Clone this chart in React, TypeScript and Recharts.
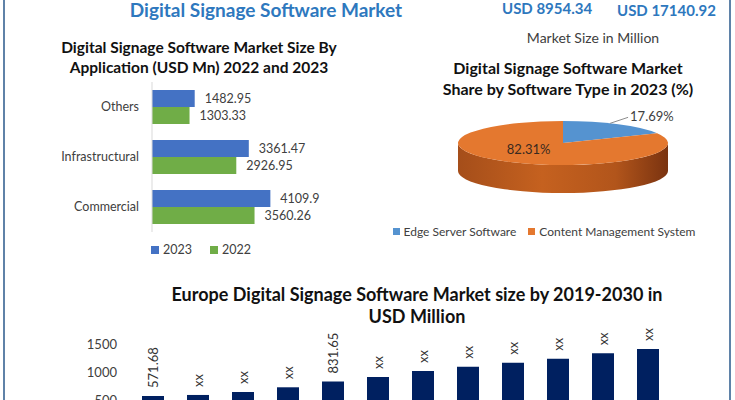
import React from 'react'
import { BarChart, Bar, XAxis, YAxis, Legend, LabelList, PieChart, Pie, Cell } from 'recharts'

// Market size by application (USD Mn)
const applications = ['Others', 'Infrastructural', 'Commercial']
const size2023 = [1482.95, 3361.47, 4109.9]
const size2022 = [1303.33, 2926.95, 3560.26]
const seriesNames = ['2023', '2022']

// Share by software type, 2023 (%)
const softwareTypes = ['Edge Server Software', 'Content Management System']
const softwareShare = [17.69, 82.31]
const softwareColors = ['#5593D0', '#E4782F']

// Europe market size 2019-2030 (USD Mn), bar heights estimated where shown as "xx"
const years = ['2019', '2020', '2021', '2022', '2023', '2024', '2025', '2026', '2027', '2028', '2029', '2030']
const europeSize = [571.68, 590, 643, 727, 831.65, 910, 1018, 1095, 1166, 1238, 1333, 1410]
const europeLabels = ['571.68', 'xx', 'xx', 'xx', '831.65', 'xx', 'xx', 'xx', 'xx', 'xx', 'xx', 'xx']
const europeTicks = [500, 1000, 1500]

const appData = applications.map((name, i) => ({ name, y2023: size2023[i], y2022: size2022[i] }))
const shareData = softwareTypes.map((name, i) => ({ name, value: softwareShare[i] }))
const europeData = years.map((year, i) => ({ year, value: europeSize[i], label: europeLabels[i] }))

const FONT = "Lato, 'Open Sans', sans-serif"
const TEXT = '#404040'
const RAD = Math.PI / 180
const FLAT = 0.21
const DEPTH = 28

// elliptical sector with a side wall, fakes the 3D pie look
function Sector3D(props: any) {
  const { cx, cy, outerRadius, startAngle, endAngle, fill } = props
  const rx = outerRadius
  const ry = outerRadius * FLAT
  const pt = (a: number, dy = 0) => `${cx + rx * Math.cos(a * RAD)},${cy - ry * Math.sin(a * RAD) + dy}`
  const large = Math.abs(endAngle - startAngle) > 180 ? 1 : 0
  const sweep = endAngle < startAngle ? 1 : 0
  const top = `M${cx},${cy} L${pt(startAngle)} A${rx},${ry} 0 ${large} ${sweep} ${pt(endAngle)} Z`

  const lo = Math.min(startAngle, endAngle)
  const hi = Math.max(startAngle, endAngle)
  const sides: string[] = []
  for (const k of [-1, 0, 1]) {
    const a = Math.max(lo, -180 + 360 * k)
    const b = Math.min(hi, 360 * k)
    if (b - a > 0.01) {
      sides.push(
        `M${pt(b)} L${pt(b, DEPTH)} A${rx},${ry} 0 0 1 ${pt(a, DEPTH)} L${pt(a)} A${rx},${ry} 0 0 0 ${pt(b)} Z`
      )
    }
  }
  return (
    <g>
      <defs>
        <linearGradient id="pieSide" x1="0" y1="0" x2="1" y2="0">
          <stop offset="0%" stopColor="#A54E1A" />
          <stop offset="40%" stopColor="#C5611F" />
          <stop offset="75%" stopColor="#B2551B" />
          <stop offset="100%" stopColor="#7A3310" />
        </linearGradient>
      </defs>
      {sides.map((d, i) => (
        <path key={i} d={d} fill="url(#pieSide)" />
      ))}
      <path d={top} fill={fill} />
    </g>
  )
}

const renderPieLabel = (props: any) => {
  const { cx, cy, midAngle, outerRadius, value, index } = props
  const rx = outerRadius
  const ry = outerRadius * FLAT
  const c = Math.cos(midAngle * RAD)
  const s = Math.sin(midAngle * RAD)
  const text = `${Number(value).toFixed(2)}%`
  if (index === 0) {
    const sx = cx + rx * 0.85 * c
    const sy = cy - ry * 1.05 * s
    const ex = sx + 18
    const ey = sy - 6
    return (
      <g>
        <path d={`M${sx},${sy} L${ex},${ey}`} stroke="#8c8c8c" fill="none" />
        <text x={ex + 2} y={ey - 1} fill={TEXT} fontSize={13} dominantBaseline="central">
          {text}
        </text>
      </g>
    )
  }
  return (
    <text x={cx + rx * 0.62 * c} y={cy - ry * 0.3 * s} fill="#3a2a20" fontSize={13} textAnchor="middle" dominantBaseline="central">
      {text}
    </text>
  )
}

const renderEuropeLabel = (props: any) => {
  const { x, y, width, value } = props
  const lx = x + width / 2
  const ly = y - 8
  return (
    <text
      x={lx}
      y={ly}
      transform={`rotate(-90, ${lx}, ${ly})`}
      fill="#333"
      fontSize={13}
      textAnchor="start"
      dominantBaseline="central"
    >
      {value}
    </text>
  )
}

const barLegendText = (value: string) => <span style={{ color: TEXT, fontSize: 12.5, marginRight: 8 }}>{value}</span>
const pieLegendText = (value: string) => <span style={{ color: TEXT, fontSize: 12, marginRight: 2 }}>{value}</span>

const abs = (left: number, top: number, extra: React.CSSProperties = {}): React.CSSProperties => ({
  position: 'absolute',
  left,
  top,
  ...extra,
})

export default function App() {
  return (
    <div
      style={{
        position: 'absolute',
        left: 0,
        top: 0,
        width: 735,
        height: 400,
        overflow: 'hidden',
        background: '#fff',
        fontFamily: FONT,
      }}
    >
      {/* frame */}
      <div style={abs(3, 0, { width: 2, height: 400, background: '#5F82A8' })} />
      <div style={abs(729, 0, { width: 2, height: 400, background: '#5F82A8' })} />

      {/* header */}
      <div style={abs(100, 0, { width: 332, textAlign: 'center', fontSize: 19, lineHeight: '19px', fontWeight: 700, color: '#2E78BE' })}>
        Digital Signage Software Market
      </div>
      <div style={abs(502, 0, { fontSize: 15, lineHeight: '16px', fontWeight: 700, color: '#2E78BE' })}>USD 8954.34</div>
      <div style={abs(617, 2, { fontSize: 15, lineHeight: '16px', fontWeight: 700, color: '#2E78BE' })}>USD 17140.92</div>
      <div style={abs(493, 29, { width: 200, textAlign: 'center', fontSize: 14, color: TEXT })}>
        Market Size in Million
      </div>

      {/* application chart */}
      <div style={abs(34, 37, { width: 330, textAlign: 'center', fontSize: 15.5, fontWeight: 700, color: '#111', lineHeight: '20px' })}>
        Digital Signage Software Market Size By
        <br />
        Application (USD Mn) 2022 and 2023
      </div>
      <div style={abs(0, 72)}>
        <BarChart
          width={330}
          height={170}
          data={appData}
          layout="vertical"
          margin={{ top: 10, right: 34, bottom: 10, left: 0 }}
          barGap={0}
          barSize={17}
        >
          <XAxis type="number" domain={[0, 5000]} hide />
          <YAxis
            type="category"
            dataKey="name"
            width={152}
            tickLine={false}
            tickMargin={7}
            axisLine={{ stroke: '#D9D9D9' }}
            tick={{ fill: TEXT, fontSize: 12.5 }}
          />
          <Legend
            layout="horizontal"
            verticalAlign="middle"
            align="center"
            iconType="square"
            iconSize={8}
            formatter={barLegendText}
            itemSorter={(item: any) => seriesNames.indexOf(String(item.value))}
            wrapperStyle={{ top: 166, left: 145, width: 130 }}
          />
          <Bar dataKey="y2023" name={seriesNames[0]} fill="#4472C4" isAnimationActive={false}>
            <LabelList dataKey="y2023" position="right" offset={10} fill={TEXT} fontSize={12.5} />
          </Bar>
          <Bar dataKey="y2022" name={seriesNames[1]} fill="#70AD47" isAnimationActive={false}>
            <LabelList dataKey="y2022" position="right" offset={10} fill={TEXT} fontSize={12.5} />
          </Bar>
        </BarChart>
      </div>

      {/* share pie */}
      <div style={abs(393, 57, { width: 350, textAlign: 'center', fontSize: 16, fontWeight: 700, color: '#111', lineHeight: '21px' })}>
        Digital Signage Software Market
        <br />
        Share by Software Type in 2023 (%)
      </div>
      <div style={abs(380, 95)}>
        <PieChart width={355} height={150} margin={{ top: 0, right: 0, bottom: 0, left: 0 }}>
          <Pie
            data={shareData}
            dataKey="value"
            nameKey="name"
            cx={183}
            cy={48}
            outerRadius={105}
            startAngle={90}
            endAngle={-270}
            stroke="none"
            shape={Sector3D}
            label={renderPieLabel}
            labelLine={false}
            isAnimationActive={false}
          >
            {shareData.map((d, i) => (
              <Cell key={d.name} fill={softwareColors[i]} />
            ))}
          </Pie>
          <Legend
            layout="horizontal"
            verticalAlign="middle"
            align="center"
            iconType="square"
            iconSize={7}
            formatter={pieLegendText}
            itemSorter={(item: any) => softwareTypes.indexOf(String(item.value))}
            wrapperStyle={{ top: 125, left: -15, width: 370 }}
          />
        </PieChart>
      </div>

      {/* Europe bars */}
      <div style={abs(117, 283, { width: 600, textAlign: 'center', fontSize: 18, fontWeight: 700, color: '#111', lineHeight: '22px' })}>
        Europe Digital Signage Software Market size by 2019-2030 in
        <br />
        USD Million
      </div>
      <div style={abs(60, 300)}>
        <BarChart width={640} height={160} data={europeData} margin={{ top: 44, right: 30, bottom: 32, left: 30 }} barSize={22}>
          <XAxis dataKey="year" hide />
          <YAxis
            domain={[0, 1500]}
            ticks={europeTicks}
            width={40}
            axisLine={false}
            tickLine={false}
            tickMargin={7}
            tick={{ fill: TEXT, fontSize: 13 }}
          />
          <Bar dataKey="value" fill="#002060" isAnimationActive={false}>
            <LabelList dataKey="label" content={renderEuropeLabel} />
          </Bar>
        </BarChart>
      </div>
    </div>
  )
}
